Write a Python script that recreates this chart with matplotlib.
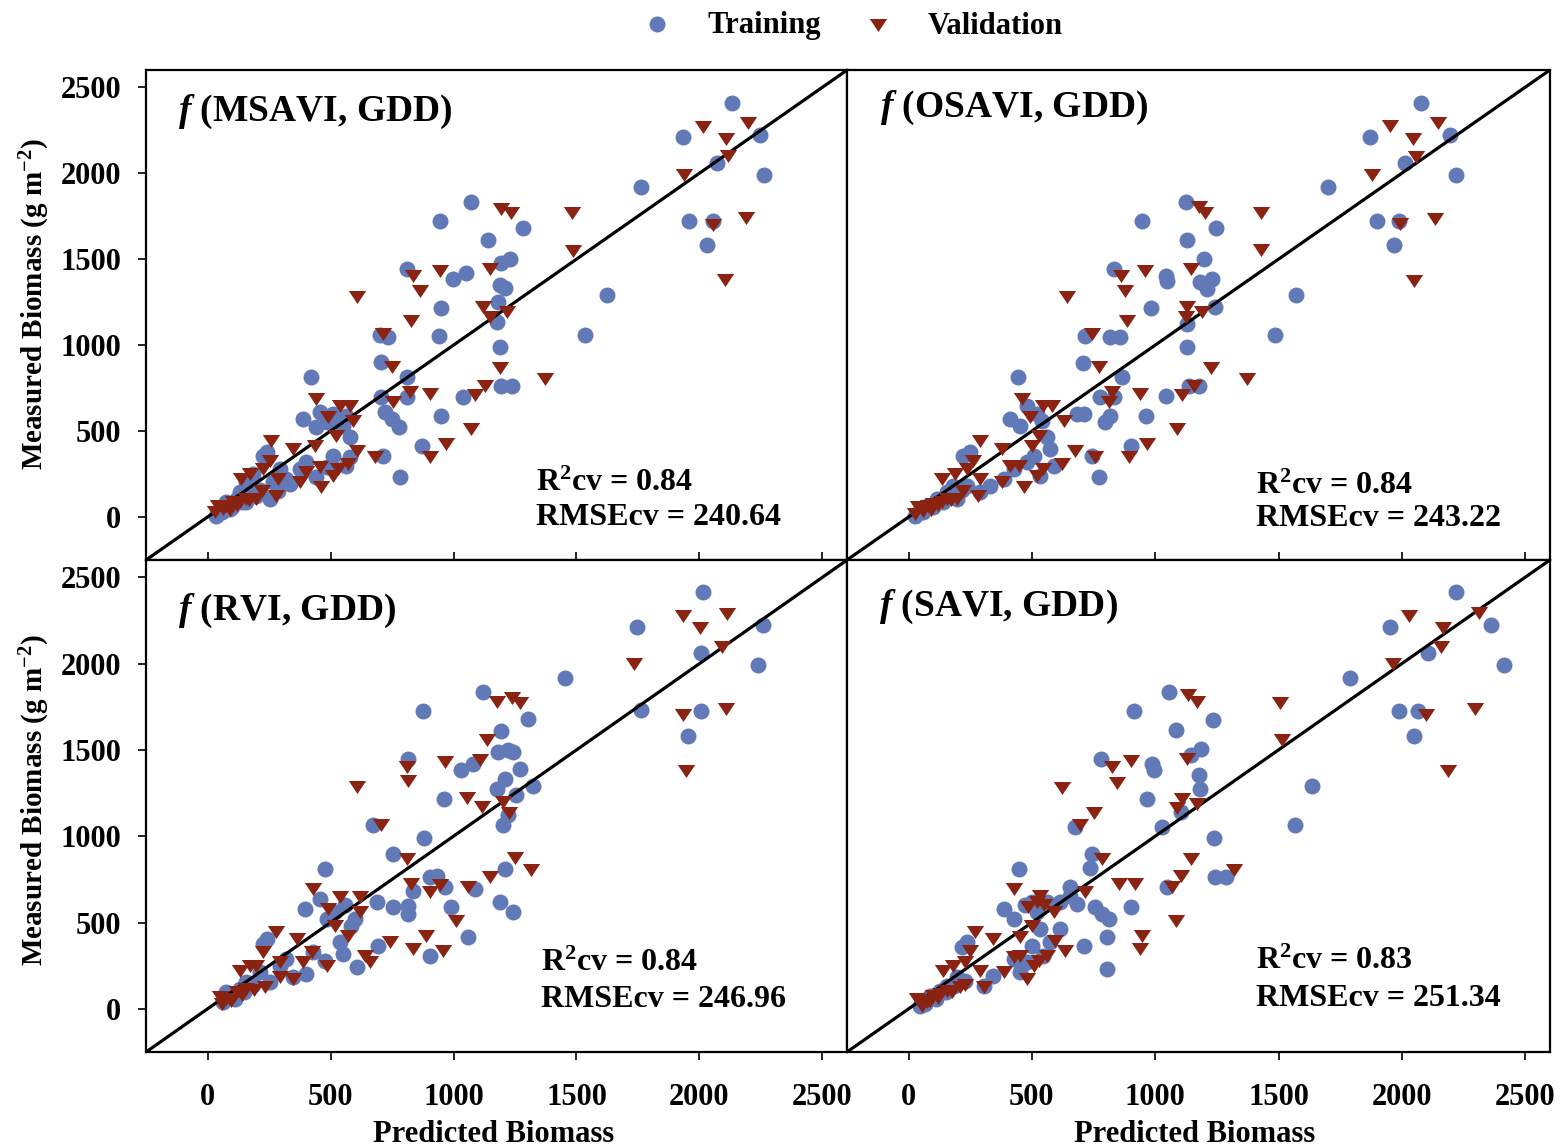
import matplotlib
matplotlib.use("Agg")
from matplotlib import pyplot as plt
from matplotlib.lines import Line2D

# (predicted, measured) pairs
msavi_train = [(2133, 2410), (1934, 2210), (2245, 2220), (2072, 2060), (2263, 1990), (1762, 1920),
               (1958, 1720), (2053, 1720), (2031, 1580), (1281, 1680), (1229, 1500), (1195, 1480),
               (1622, 1290), (1534, 1060), (1189, 990), (1195, 764), (1236, 760), (1190, 1350),
               (1210, 1330), (1182, 1248), (1175, 1132),
               (1073, 1834), (944, 1723), (1141, 1613), (809, 1442), (999, 1384), (1050, 1419),
               (951, 1214), (942, 1055), (700, 1060), (734, 1045), (707, 900), (809, 812), (420, 812),
               (707, 696), (809, 696), (1039, 696), (951, 589), (721, 609), (748, 570), (778, 522),
               (389, 570), (443, 522), (457, 609), (484, 551), (579, 464), (565, 589), (551, 531),
               (870, 415), (714, 357), (782, 231), (511, 357), (565, 299), (579, 347), (484, 289),
               (443, 231), (335, 192), (287, 154), (240, 376), (226, 357), (321, 221), (267, 202),
               (158, 202), (131, 144), (118, 105), (77, 86), (50, 37), (36, 8), (91, 47), (158, 86),
               (199, 124), (253, 105), (186, 250), (375, 280), (402, 318), (294, 280),
               (60, 30), (100, 60), (140, 90), (175, 130), (215, 160), (510, 600), (530, 560)]
msavi_val = [(2015, 2270), (2198, 2290), (2106, 2200), (2117, 2100), (1938, 1990), (1480, 1770),
             (1484, 1550), (1195, 1790), (1232, 1768), (2056, 1700), (2188, 1740), (2103, 1380),
             (1216, 1190), (1189, 865), (1371, 803),
             (1147, 1442), (606, 1281), (836, 1400), (944, 1433), (863, 1316), (829, 1142),
             (1121, 1219), (1147, 1161), (714, 1064), (748, 871), (822, 725), (904, 716), (1087, 710),
             (1127, 764), (755, 667), (443, 686), (538, 648), (579, 648), (490, 580), (592, 561),
             (524, 473), (1073, 512), (971, 425), (904, 347), (680, 347), (606, 386), (572, 309),
             (436, 415), (348, 396), (260, 444), (253, 328), (226, 280), (138, 221), (172, 250),
             (287, 221), (375, 202), (402, 260), (463, 173), (457, 289), (511, 241), (531, 280),
             (280, 124), (199, 105), (158, 105), (104, 86), (64, 47), (30, 28), (43, 66), (77, 66),
             (131, 86), (90, 40), (120, 70), (170, 100), (220, 150)]

osavi_train = [(2078, 2410), (1872, 2210), (2197, 2220), (2013, 2060), (2221, 1990), (1702, 1920),
               (1899, 1720), (1990, 1720), (1970, 1580), (1248, 1680), (1196, 1500), (1230, 1384),
               (1210, 1326), (1183, 1365), (1244, 1219), (1569, 1290), (1484, 1060), (1176, 764),
               (1123, 1834), (947, 1723), (1130, 1613), (832, 1442), (1042, 1403), (1046, 1374),
               (984, 1214), (1130, 1122), (1130, 987), (717, 1055), (818, 1045), (859, 1045),
               (707, 896), (866, 812), (442, 812), (778, 696), (832, 696), (1042, 702), (1137, 764),
               (961, 589), (798, 551), (818, 589), (683, 599), (710, 599), (412, 570), (453, 531),
               (480, 648), (561, 464), (575, 396), (900, 415), (744, 357), (771, 231), (507, 357),
               (588, 299), (249, 376), (222, 357), (426, 280), (385, 221), (331, 183), (290, 144),
               (182, 183), (154, 144), (114, 105), (73, 66), (46, 37), (26, 8), (195, 105),
               (236, 183), (534, 241), (480, 318),
               (60, 30), (100, 60), (140, 90), (175, 130), (215, 160), (520, 600), (540, 560)]
osavi_val = [(1953, 2276), (2146, 2289), (2044, 2198), (2058, 2097), (1877, 1989), (1430, 1766),
             (1430, 1553), (1176, 1801), (1203, 1768), (1994, 1704), (2135, 1733), (2048, 1374),
             (1189, 1190), (1226, 865), (1373, 803),
             (1146, 1442), (643, 1281), (862, 1400), (958, 1433), (879, 1316), (886, 1142),
             (1130, 1219), (1123, 1161), (744, 1064), (771, 871), (825, 725), (940, 716), (1110, 710),
             (1157, 764), (812, 667), (459, 686), (547, 648), (581, 648), (493, 580), (629, 561),
             (527, 473), (1089, 512), (968, 425), (893, 347), (757, 347), (676, 386), (622, 309),
             (500, 415), (378, 396), (290, 444), (263, 328), (236, 280), (134, 221), (188, 250),
             (290, 221), (378, 202), (412, 299), (466, 173), (446, 299), (520, 241), (547, 280),
             (283, 124), (195, 105), (154, 105), (100, 76), (60, 37), (26, 18), (39, 56), (80, 66),
             (134, 86), (90, 40), (120, 70), (170, 100), (220, 150)]

rvi_train = [(2015, 2417), (1744, 2210), (2259, 2223), (2006, 2059), (2239, 1991), (1453, 1919),
             (1762, 1730), (2006, 1724), (1954, 1581), (1304, 1678), (1195, 1608), (1222, 1498),
             (1243, 1488), (1182, 1488), (1270, 1388), (1209, 1333), (1324, 1289), (1256, 1237),
             (1222, 1125), (1202, 1063), (1209, 811), (1189, 618), (1240, 560), (1175, 1275),
             (1121, 1836), (874, 1724), (816, 1449), (1032, 1382), (1080, 1420), (962, 1217),
             (879, 989), (673, 1063), (755, 898), (477, 811), (904, 763), (931, 772), (836, 685),
             (965, 705), (1087, 695), (988, 589), (816, 598), (816, 550), (755, 589), (687, 618),
             (396, 579), (457, 637), (484, 521), (585, 482), (538, 386), (694, 366), (551, 318),
             (606, 241), (904, 308), (1060, 415), (477, 279), (226, 376), (240, 405), (321, 289),
             (402, 202), (348, 182), (253, 154), (158, 154), (131, 115), (91, 76), (64, 38),
             (77, 95), (213, 212), (294, 250), (430, 327),
             (110, 60), (150, 100), (185, 140), (520, 560), (560, 600), (600, 520)]
rvi_val = [(1934, 2277), (2113, 2285), (2004, 2204), (2092, 2097), (1735, 1995), (1236, 1802),
           (1270, 1769), (1175, 1778), (1934, 1701), (2107, 1736), (1947, 1376), (1202, 1198),
           (1226, 1136), (1250, 873), (1317, 802),
           (1137, 1556), (1107, 1440), (606, 1285), (809, 1401), (813, 1318), (965, 1430),
           (1053, 1221), (1114, 1169), (707, 1063), (809, 869), (829, 724), (944, 715), (904, 676),
           (1060, 705), (1148, 763), (1012, 511), (430, 695), (538, 647), (619, 647), (490, 579),
           (619, 560), (518, 482), (572, 424), (890, 424), (741, 386), (836, 347), (958, 337),
           (640, 308), (660, 270), (280, 444), (362, 405), (423, 327), (389, 270), (484, 250),
           (226, 327), (199, 250), (131, 221), (172, 250), (294, 270), (348, 173), (294, 182),
           (233, 124), (158, 115), (118, 95), (77, 57), (57, 28), (50, 67),
           (95, 45), (140, 80), (190, 110)]

savi_train = [(2218, 2417), (1953, 2210), (2363, 2223), (2105, 2059), (2415, 1991), (1790, 1919),
              (1990, 1726), (2065, 1724), (2048, 1581), (1233, 1676), (1185, 1508), (1176, 1353),
              (1183, 1275), (1634, 1289), (1565, 1063), (1240, 989), (1244, 763), (1288, 763),
              (1056, 1836), (913, 1724), (1083, 1614), (1144, 1469), (782, 1449), (988, 1420),
              (995, 1382), (965, 1217), (1103, 1140), (1029, 1053), (676, 1053), (744, 898),
              (734, 815), (446, 811), (656, 705), (656, 656), (683, 608), (1049, 705), (900, 589),
              (757, 589), (785, 550), (812, 521), (385, 579), (426, 521), (500, 618), (561, 618),
              (615, 618), (615, 463), (534, 463), (710, 366), (805, 415), (805, 231), (500, 366),
              (575, 386), (547, 308), (236, 386), (216, 357), (344, 192), (304, 134), (195, 182),
              (154, 134), (127, 105), (87, 76), (46, 18), (426, 289), (453, 212), (480, 270),
              (65, 30), (110, 60), (150, 95), (185, 130), (230, 160), (520, 560), (470, 600)]
savi_val = [(2028, 2277), (2313, 2291), (2166, 2204), (2159, 2094), (1963, 1995), (1505, 1772),
            (1515, 1560), (1169, 1778), (2098, 1701), (2295, 1736), (2189, 1376), (1169, 1188),
            (1321, 802),
            (1132, 1817), (1130, 1449), (622, 1279), (825, 1401), (900, 1434), (846, 1310),
            (751, 1136), (1110, 1217), (1089, 1163), (697, 1063), (785, 869), (852, 724), (920, 724),
            (1069, 705), (1103, 772), (1144, 869), (717, 676), (426, 695), (534, 656), (486, 589),
            (588, 560), (500, 482), (1083, 511), (947, 424), (940, 347), (636, 337), (595, 395),
            (561, 308), (453, 415), (344, 405), (270, 444), (249, 337), (229, 270), (141, 221),
            (182, 250), (290, 221), (385, 212), (426, 298), (480, 173), (453, 308), (507, 250),
            (527, 279), (304, 124), (209, 124), (154, 105), (100, 76), (53, 18), (33, 57), (73, 37),
            (127, 86), (85, 45), (120, 65), (175, 95), (230, 140), (520, 620), (550, 600)]

names = ['MSAVI', 'OSAVI', 'RVI', 'SAVI']
r2 = ['0.84', '0.84', '0.84', '0.83']
rmse = ['240.64', '243.22', '246.96', '251.34']
ticks = [0, 500, 1000, 1500, 2000, 2500]

plt.rcParams['font.family'] = 'Liberation Serif'
plt.rcParams['font.weight'] = 'bold'
plt.rcParams['mathtext.fontset'] = 'custom'
plt.rcParams['mathtext.rm'] = 'Liberation Serif:bold'
plt.rcParams['mathtext.it'] = 'Liberation Serif:bold:italic'
plt.rcParams['mathtext.bf'] = 'Liberation Serif:bold'

blue = '#6279B8'
red = '#8B2312'
tri = [(-1, 0.75), (1, 0.75), (0, -0.75)]  # wide downward triangle
lims = (-250, 2600)

fig = plt.figure(figsize=(15.6, 11.48), dpi=100)

# panel boxes in figure fractions: left col / right col, top row / bottom row
cols = [(0.0936, 0.4494), (0.5429, 0.4506)]
rows = [(0.5122, 0.4268), (0.0836, 0.4286)]
title_pos = [(0.046, 0.914), (0.047, 0.922), (0.046, 0.896), (0.046, 0.904)]
stat_pos = [(0.556, 0.157, 0.086), (0.582, 0.151, 0.084), (0.563, 0.181, 0.106), (0.582, 0.185, 0.108)]

train_sets = [msavi_train, osavi_train, rvi_train, savi_train]
val_sets = [msavi_val, osavi_val, rvi_val, savi_val]

for i in range(4):
    r, c = i // 2, i % 2
    ax = fig.add_axes([cols[c][0], rows[r][0], cols[c][1], rows[r][1]])
    tx, ty = zip(*train_sets[i])
    vx, vy = zip(*val_sets[i])
    ax.plot(tx, ty, 'o', ms=11.5, color=blue, mec='none', zorder=2)
    ax.plot(lims, lims, color='k', lw=2.3, zorder=3)
    ax.plot(vx, vy, ls='none', marker=tri, ms=12.5, color=red, mec='none', zorder=4)
    ax.set_xlim(lims)
    ax.set_ylim(lims)
    ax.set_xticks(ticks)
    ax.set_yticks(ticks)
    for s in ax.spines.values():
        s.set_linewidth(1.6)
    if r == 0:
        ax.tick_params(axis='x', direction='in', length=6, width=1.2, labelbottom=False)
    else:
        ax.tick_params(axis='x', direction='out', length=6, width=1.2, pad=16, labelsize=22)
    if c == 0:
        ax.tick_params(axis='y', direction='out', length=6, width=1.2, pad=12, labelsize=22)
    else:
        ax.tick_params(axis='y', left=False, labelleft=False)

    ax.text(title_pos[i][0], title_pos[i][1], r'$f$ (' + names[i] + ', GDD)',
            transform=ax.transAxes, fontsize=27, va='center')
    sx, sy1, sy2 = stat_pos[i]
    ax.text(sx, sy1, r'R$^2$cv = ' + r2[i], transform=ax.transAxes, fontsize=23, va='center')
    ax.text(sx, sy2, 'RMSEcv = ' + rmse[i], transform=ax.transAxes, fontsize=23, va='center')

# axis titles
fig.text(35 / 1560, 1 - 304 / 1148, r'Measured Biomass (g m$^{-2}$)', rotation=90,
         ha='center', va='center', fontsize=21)
fig.text(35 / 1560, 1 - 800 / 1148, r'Measured Biomass (g m$^{-2}$)', rotation=90,
         ha='center', va='center', fontsize=21)
fig.text(494 / 1560, 1 - 1120 / 1148, 'Predicted Biomass', ha='center', va='top', fontsize=22)
fig.text(1195 / 1560, 1 - 1120 / 1148, 'Predicted Biomass', ha='center', va='top', fontsize=22)

# legend on top
fig.add_artist(Line2D([657 / 1560], [1 - 24 / 1148], transform=fig.transFigure,
                      marker='o', ms=11.5, color=blue, mec='none', ls='none'))
fig.text(707 / 1560, 1 - 26 / 1148, 'Training', va='center', fontsize=22)
fig.add_artist(Line2D([878 / 1560], [1 - 25 / 1148], transform=fig.transFigure,
                      marker=tri, ms=12.5, color=red, mec='none', ls='none'))
fig.text(928 / 1560, 1 - 26 / 1148, 'Validation', va='center', fontsize=22)

fig.savefig('out.png', dpi=100)
